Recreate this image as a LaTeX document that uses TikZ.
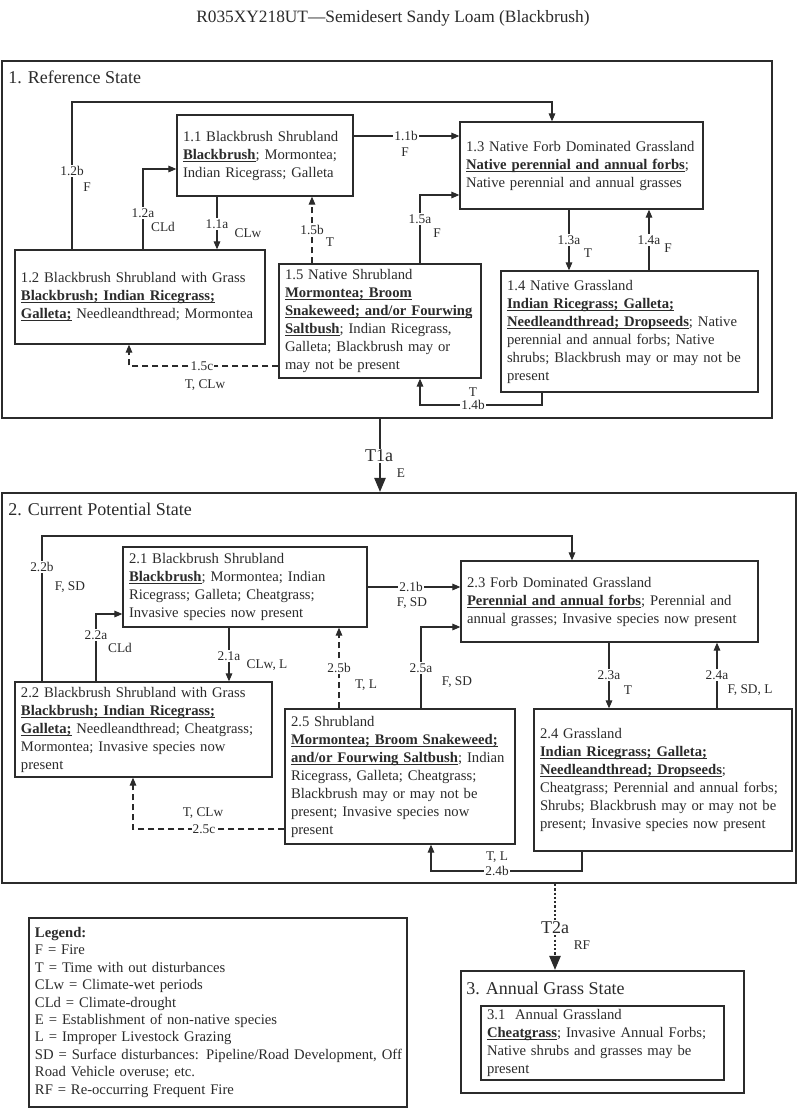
\documentclass[tikz,border=0pt]{standalone}
\usepackage{fontspec}
\setmainfont{Liberation Serif}
\usetikzlibrary{arrows.meta}
\definecolor{ink}{HTML}{2B2B2B}
\newsavebox{\myub}
\newcommand\ub[1]{\sbox{\myub}{\textbf{#1}}\rlap{\vrule height -1.3pt depth 2.1pt width \wd\myub}\usebox{\myub}}
\newcommand\Lx[1]{\mbox{#1}}
\newcommand\mybox[6]{%
  \pgfmathsetmacro\myBW{(#4-#2)*0.75}%
  \pgfmathsetmacro\myBH{(#5-#3)*0.75}%
  \pgfmathsetmacro\myTW{(#4-#2-12)*0.75}%
  \pgfmathsetmacro\myCX{(#2+#4)/2}%
  \pgfmathsetmacro\myCY{(#3+#5)/2}%
  \node[stbox, minimum width=\myBW pt, minimum height=\myBH pt, text width=\myTW pt] (#1) at (\myCX,\myCY) {#6};%
}
\newcommand\myframe[5]{%
  \pgfmathsetmacro\myBW{(#4-#2)*0.75}%
  \pgfmathsetmacro\myBH{(#5-#3)*0.75}%
  \pgfmathsetmacro\myCX{(#2+#4)/2}%
  \pgfmathsetmacro\myCY{(#3+#5)/2}%
  \node[frame, minimum width=\myBW pt, minimum height=\myBH pt] (#1) at (\myCX,\myCY) {};%
}
\tikzset{
  stbox/.style={draw=ink, line width=1pt, rectangle, align=left, inner xsep=4.5pt, inner ysep=0pt, text=ink, font=\fontsize{11}{13.5}\selectfont},
  frame/.style={draw=ink, line width=1.7pt, rectangle, inner sep=0pt},
  conn/.style={draw=ink, line width=0.8pt, -{Triangle[length=6pt,width=5pt]}},
  dashconn/.style={conn, dash pattern=on 4.5pt off 3pt},
  big/.style={draw=ink, line width=1.2pt, -{Triangle[length=10.5pt,width=8.5pt]}},
  lbl/.style={font=\fontsize{10}{12}\selectfont, text=ink, fill=white, inner sep=0.8pt},
  biglbl/.style={font=\fontsize{13.5}{16}\selectfont, text=ink, fill=white, inner sep=0.8pt},
  hdr/.style={font=\fontsize{13.5}{16}\selectfont, text=ink, anchor=west, inner sep=0pt},
}
\begin{document}
\begin{tikzpicture}[x=0.75pt,y=-0.75pt]
\useasboundingbox (0,0) rectangle (800,1108);
\fill[white] (0,0) rectangle (800,1108);

\node[font=\fontsize{13}{16}\selectfont, text=ink] (title) at (393,18) {R035XY218UT—Semidesert Sandy Loam (Blackbrush)};

% ---------------- State frames ----------------
\myframe{s1}{2}{61}{772}{418}
\myframe{s2}{2}{493}{796}{883}
\myframe{s3}{461}{971}{744}{1093}

% ---------------- State 1 ----------------
\node[hdr] (h1) at (8,77) {1. Reference State};

\mybox{b11}{177}{115}{353}{196}{\Lx{1.1 Blackbrush Shrubland}\\\Lx{\ub{Blackbrush}; Mormontea;}\\\Lx{Indian Ricegrass; Galleta}}
\mybox{b13}{460}{122}{703}{209}{\Lx{1.3 Native Forb Dominated Grassland}\\\Lx{\ub{Native perennial and annual forbs};}\\\Lx{Native perennial and annual grasses}}
\mybox{b12}{15}{250}{265}{344}{\Lx{1.2 Blackbrush Shrubland with Grass}\\\Lx{\ub{Blackbrush; Indian Ricegrass;}}\\\Lx{\ub{Galleta;} Needleandthread; Mormontea}}
\mybox{b15}{279}{264}{481}{378}{\Lx{1.5 Native Shrubland}\\\Lx{\ub{Mormontea; Broom}}\\\Lx{\ub{Snakeweed; and/or Fourwing}}\\\Lx{\ub{Saltbush}; Indian Ricegrass,}\\\Lx{Galleta; Blackbrush may or}\\\Lx{may not be present}}
\mybox{b14}{501}{271}{758}{392}{\Lx{1.4 Native Grassland}\\\Lx{\ub{Indian Ricegrass; Galleta;}}\\\Lx{\ub{Needleandthread; Dropseeds}; Native}\\\Lx{perennial and annual forbs; Native}\\\Lx{shrubs; Blackbrush may or may not be}\\\Lx{present}}

\draw[conn] (b12.north -| 72,0) -- (72,102) -- (552,102) -- (b13.north -| 552,0);
\draw[conn] (b12.north -| 143,0) -- (143,169) -- (b11.west |- 0,169);
\draw[conn] (b11.south -| 217,0) -- (b12.north -| 217,0);
\draw[dashconn] (b15.north -| 312,0) -- (b11.south -| 312,0);
\draw[conn] (b11.east |- 0,136) -- (b13.west |- 0,136);
\draw[conn] (b15.north -| 420,0) -- (420,195) -- (b13.west |- 0,195);
\draw[conn] (b13.south -| 569,0) -- (b14.north -| 569,0);
\draw[conn] (b14.north -| 649,0) -- (b13.south -| 649,0);
\draw[conn] (b14.south -| 542,0) -- (542,405) -- (420,405) -- (b15.south -| 420,0);
\draw[dashconn] (b15.west |- 0,366) -- (129,366) -- (b12.south -| 129,0);

\node[lbl] (l12b) at (72,171) {1.2b};
\node[lbl] (l12bx) at (87,187) {F};
\node[lbl] (l12a) at (143,213) {1.2a};
\node[lbl] (l12ax) at (163,227) {CLd};
\node[lbl] (l11a) at (217,224) {1.1a};
\node[lbl] (l11ax) at (248,233) {CLw};
\node[lbl] (l15b) at (312,230) {1.5b};
\node[lbl] (l15bx) at (330,242) {T};
\node[lbl] (l11b) at (406,136) {1.1b};
\node[lbl] (l11bx) at (405,152) {F};
\node[lbl] (l15a) at (420,219) {1.5a};
\node[lbl] (l15ax) at (437,233) {F};
\node[lbl] (l13a) at (569,240) {1.3a};
\node[lbl] (l13ax) at (588,253) {T};
\node[lbl] (l14a) at (649,240) {1.4a};
\node[lbl] (l14ax) at (668,248) {F};
\node[lbl] (l14b) at (473,405) {1.4b};
\node[lbl] (l14bx) at (473,392) {T};
\node[lbl] (l15c) at (202,366) {1.5c};
\node[lbl] (l15cx) at (205,385) {T, CLw};

% T1a
\draw[big] (s1.south -| 380,0) -- (s2.north -| 380,0);
\node[biglbl] (lT1a) at (379,456) {T1a};
\node[lbl] (lT1ax) at (401,473) {E};

% ---------------- State 2 ----------------
\node[hdr] (h2) at (8,509) {2. Current Potential State};

\mybox{b21}{123}{547}{367}{627}{\Lx{2.1 Blackbrush Shrubland}\\\Lx{\ub{Blackbrush}; Mormontea; Indian}\\\Lx{Ricegrass; Galleta; Cheatgrass;}\\\Lx{Invasive species now present}}
\mybox{b23}{461}{561}{758}{642}{\Lx{2.3 Forb Dominated Grassland}\\\Lx{\ub{Perennial and annual forbs}; Perennial and}\\\Lx{annual grasses; Invasive species now present}}
\mybox{b22}{15}{682}{272}{777}{\Lx{2.2 Blackbrush Shrubland with Grass}\\\Lx{\ub{Blackbrush; Indian Ricegrass;}}\\\Lx{\ub{Galleta;} Needleandthread; Cheatgrass;}\\\Lx{Mormontea; Invasive species now}\\\Lx{present}}
\mybox{b25}{285}{709}{515}{844}{\Lx{2.5 Shrubland}\\\Lx{\ub{Mormontea; Broom Snakeweed;}}\\\Lx{\ub{and/or Fourwing Saltbush}; Indian}\\\Lx{Ricegrass, Galleta; Cheatgrass;}\\\Lx{Blackbrush may or may not be}\\\Lx{present; Invasive species now}\\\Lx{present}}
\mybox{b24}{534}{709}{792}{851}{\Lx{2.4 Grassland}\\\Lx{\ub{Indian Ricegrass; Galleta;}}\\\Lx{\ub{Needleandthread; Dropseeds};}\\\Lx{Cheatgrass; Perennial and annual forbs;}\\\Lx{Shrubs; Blackbrush may or may not be}\\\Lx{present; Invasive species now present}}

\draw[conn] (b22.north -| 42,0) -- (42,536) -- (572,536) -- (b23.north -| 572,0);
\draw[conn] (b22.north -| 96,0) -- (96,614) -- (b21.west |- 0,614);
\draw[conn] (b21.south -| 229,0) -- (b22.north -| 229,0);
\draw[dashconn] (b25.north -| 339,0) -- (b21.south -| 339,0);
\draw[conn] (b21.east |- 0,587) -- (b23.west |- 0,587);
\draw[conn] (b25.north -| 421,0) -- (421,627) -- (b23.west |- 0,627);
\draw[conn] (b23.south -| 609,0) -- (b24.north -| 609,0);
\draw[conn] (b24.north -| 717,0) -- (b23.south -| 717,0);
\draw[conn] (b24.south -| 582,0) -- (582,871) -- (431,871) -- (b25.south -| 431,0);
\draw[dashconn] (b25.west |- 0,829) -- (133,829) -- (b22.south -| 133,0);

\node[lbl] (l22b) at (42,567) {2.2b};
\node[lbl] (l22bx) at (70,587) {F, SD};
\node[lbl] (l22a) at (96,635) {2.2a};
\node[lbl] (l22ax) at (120,648) {CLd};
\node[lbl] (l21a) at (229,656) {2.1a};
\node[lbl] (l21ax) at (267,665) {CLw, L};
\node[lbl] (l25b) at (339,668) {2.5b};
\node[lbl] (l25bx) at (366,685) {T, L};
\node[lbl] (l21b) at (411,587) {2.1b};
\node[lbl] (l21bx) at (412,603) {F, SD};
\node[lbl] (l25a) at (421,668) {2.5a};
\node[lbl] (l25ax) at (457,682) {F, SD};
\node[lbl] (l23a) at (609,675) {2.3a};
\node[lbl] (l23ax) at (628,690) {T};
\node[lbl] (l24a) at (717,675) {2.4a};
\node[lbl] (l24ax) at (750,690) {F, SD, L};
\node[lbl] (l24b) at (497,871) {2.4b};
\node[lbl] (l24bx) at (497,857) {T, L};
\node[lbl] (l25c) at (204,829) {2.5c};
\node[lbl] (l25cx) at (203,813) {T, CLw};

% ---------------- State 3 ----------------
\node[hdr] (h3) at (466,988) {3. Annual Grass State};
\mybox{b31}{481}{1006}{724}{1080}{\Lx{3.1\ \ Annual Grassland}\\\Lx{\ub{Cheatgrass}; Invasive Annual Forbs;}\\\Lx{Native shrubs and grasses may be}\\\Lx{present}}

\draw[big, dash pattern=on 1.6pt off 1.6pt] (s2.south -| 555,0) -- (s3.north -| 555,0);
\node[biglbl] (lT2a) at (555,928) {T2a};
\node[lbl] (lT2ax) at (582,945) {RF};

% ---------------- Legend ----------------
\mybox{leg}{29}{918}{407}{1107}{\fontsize{11}{13.1}\selectfont\Lx{\textbf{Legend:}}\\\Lx{F = Fire}\\\Lx{T = Time with out disturbances}\\\Lx{CLw = Climate-wet periods}\\\Lx{CLd = Climate-drought}\\\Lx{E = Establishment of non-native species}\\\Lx{L = Improper Livestock Grazing}\\\Lx{SD = Surface disturbances: Pipeline/Road Development, Off}\\\Lx{Road Vehicle overuse; etc.}\\\Lx{RF = Re-occurring Frequent Fire}}
\end{tikzpicture}
\end{document}
